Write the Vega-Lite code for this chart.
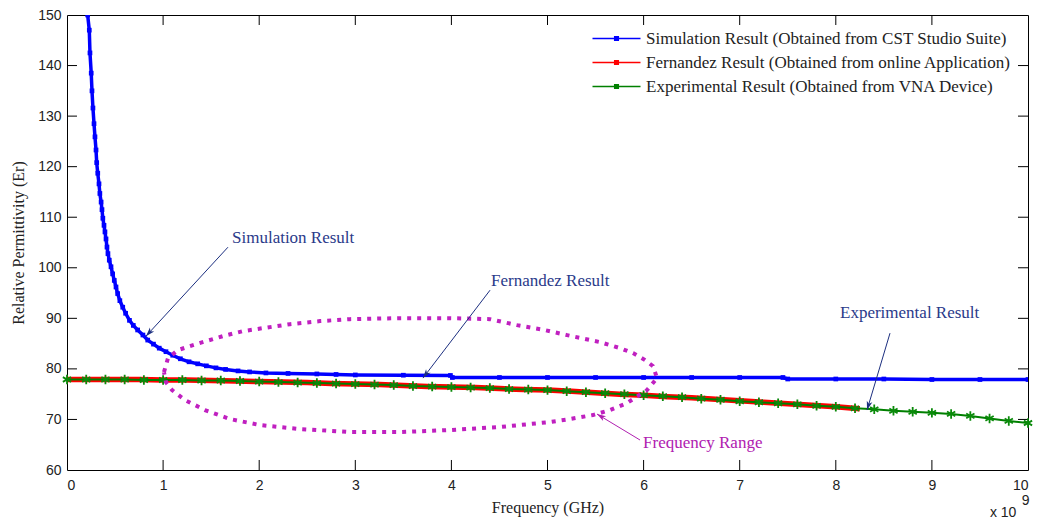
{
  "$schema": "https://vega.github.io/schema/vega-lite/v6.json",
  "width": 961,
  "height": 455,
  "autosize": "none",
  "padding": {"left": 67, "top": 15, "right": 10, "bottom": 53},
  "background": "white",
  "config": {
    "view": {"stroke": "black", "strokeWidth": 1},
    "axis": {"grid": false, "domain": false, "labelColor": "#222", "titleColor": "#222", "labelFont": "Liberation Sans", "labelFontSize": 14, "titleFont": "Liberation Serif", "titleFontSize": 16, "titleFontWeight": "normal"}
  },
  "datasets": {
    "lines": [
      {"series": "Simulation Result (Obtained from CST Studio Suite)", "f": 0.215, "er": 150},
      {"series": "Simulation Result (Obtained from CST Studio Suite)", "f": 0.232, "er": 147},
      {"series": "Simulation Result (Obtained from CST Studio Suite)", "f": 0.239, "er": 142.5},
      {"series": "Simulation Result (Obtained from CST Studio Suite)", "f": 0.252, "er": 138.5},
      {"series": "Simulation Result (Obtained from CST Studio Suite)", "f": 0.26, "er": 135},
      {"series": "Simulation Result (Obtained from CST Studio Suite)", "f": 0.27, "er": 131.6},
      {"series": "Simulation Result (Obtained from CST Studio Suite)", "f": 0.281, "er": 128.5},
      {"series": "Simulation Result (Obtained from CST Studio Suite)", "f": 0.291, "er": 125.9},
      {"series": "Simulation Result (Obtained from CST Studio Suite)", "f": 0.302, "er": 123.3},
      {"series": "Simulation Result (Obtained from CST Studio Suite)", "f": 0.309, "er": 120.8},
      {"series": "Simulation Result (Obtained from CST Studio Suite)", "f": 0.32, "er": 118.7},
      {"series": "Simulation Result (Obtained from CST Studio Suite)", "f": 0.333, "er": 116.6},
      {"series": "Simulation Result (Obtained from CST Studio Suite)", "f": 0.342, "er": 114.7},
      {"series": "Simulation Result (Obtained from CST Studio Suite)", "f": 0.355, "er": 113},
      {"series": "Simulation Result (Obtained from CST Studio Suite)", "f": 0.364, "er": 111.5},
      {"series": "Simulation Result (Obtained from CST Studio Suite)", "f": 0.373, "er": 109.8},
      {"series": "Simulation Result (Obtained from CST Studio Suite)", "f": 0.385, "er": 108.4},
      {"series": "Simulation Result (Obtained from CST Studio Suite)", "f": 0.395, "er": 107.1},
      {"series": "Simulation Result (Obtained from CST Studio Suite)", "f": 0.406, "er": 105.7},
      {"series": "Simulation Result (Obtained from CST Studio Suite)", "f": 0.416, "er": 104.1},
      {"series": "Simulation Result (Obtained from CST Studio Suite)", "f": 0.426, "er": 102.8},
      {"series": "Simulation Result (Obtained from CST Studio Suite)", "f": 0.44, "er": 101.5},
      {"series": "Simulation Result (Obtained from CST Studio Suite)", "f": 0.458, "er": 100.2},
      {"series": "Simulation Result (Obtained from CST Studio Suite)", "f": 0.475, "er": 98.8},
      {"series": "Simulation Result (Obtained from CST Studio Suite)", "f": 0.492, "er": 97.5},
      {"series": "Simulation Result (Obtained from CST Studio Suite)", "f": 0.51, "er": 96.2},
      {"series": "Simulation Result (Obtained from CST Studio Suite)", "f": 0.527, "er": 94.9},
      {"series": "Simulation Result (Obtained from CST Studio Suite)", "f": 0.55, "er": 93.5},
      {"series": "Simulation Result (Obtained from CST Studio Suite)", "f": 0.58, "er": 92.2},
      {"series": "Simulation Result (Obtained from CST Studio Suite)", "f": 0.61, "er": 91},
      {"series": "Simulation Result (Obtained from CST Studio Suite)", "f": 0.65, "er": 89.6},
      {"series": "Simulation Result (Obtained from CST Studio Suite)", "f": 0.69, "er": 88.6},
      {"series": "Simulation Result (Obtained from CST Studio Suite)", "f": 0.735, "er": 87.7},
      {"series": "Simulation Result (Obtained from CST Studio Suite)", "f": 0.79, "er": 86.7},
      {"series": "Simulation Result (Obtained from CST Studio Suite)", "f": 0.84, "er": 85.7},
      {"series": "Simulation Result (Obtained from CST Studio Suite)", "f": 0.9, "er": 84.9},
      {"series": "Simulation Result (Obtained from CST Studio Suite)", "f": 0.96, "er": 84.1},
      {"series": "Simulation Result (Obtained from CST Studio Suite)", "f": 1.03, "er": 83.4},
      {"series": "Simulation Result (Obtained from CST Studio Suite)", "f": 1.1, "er": 82.7},
      {"series": "Simulation Result (Obtained from CST Studio Suite)", "f": 1.18, "er": 82},
      {"series": "Simulation Result (Obtained from CST Studio Suite)", "f": 1.27, "er": 81.4},
      {"series": "Simulation Result (Obtained from CST Studio Suite)", "f": 1.36, "er": 81},
      {"series": "Simulation Result (Obtained from CST Studio Suite)", "f": 1.45, "er": 80.6},
      {"series": "Simulation Result (Obtained from CST Studio Suite)", "f": 1.55, "er": 80.2},
      {"series": "Simulation Result (Obtained from CST Studio Suite)", "f": 1.65, "er": 79.9},
      {"series": "Simulation Result (Obtained from CST Studio Suite)", "f": 1.78, "er": 79.6},
      {"series": "Simulation Result (Obtained from CST Studio Suite)", "f": 1.9, "er": 79.4},
      {"series": "Simulation Result (Obtained from CST Studio Suite)", "f": 2.07, "er": 79.2},
      {"series": "Simulation Result (Obtained from CST Studio Suite)", "f": 2.3, "er": 79.1},
      {"series": "Simulation Result (Obtained from CST Studio Suite)", "f": 2.6, "er": 79.0},
      {"series": "Simulation Result (Obtained from CST Studio Suite)", "f": 2.8, "er": 78.9},
      {"series": "Simulation Result (Obtained from CST Studio Suite)", "f": 3.0, "er": 78.8},
      {"series": "Simulation Result (Obtained from CST Studio Suite)", "f": 3.5, "er": 78.75},
      {"series": "Simulation Result (Obtained from CST Studio Suite)", "f": 3.99, "er": 78.7},
      {"series": "Simulation Result (Obtained from CST Studio Suite)", "f": 4.01, "er": 78.3},
      {"series": "Simulation Result (Obtained from CST Studio Suite)", "f": 4.5, "er": 78.3},
      {"series": "Simulation Result (Obtained from CST Studio Suite)", "f": 5.0, "er": 78.3},
      {"series": "Simulation Result (Obtained from CST Studio Suite)", "f": 5.5, "er": 78.3},
      {"series": "Simulation Result (Obtained from CST Studio Suite)", "f": 6.0, "er": 78.3},
      {"series": "Simulation Result (Obtained from CST Studio Suite)", "f": 6.5, "er": 78.3},
      {"series": "Simulation Result (Obtained from CST Studio Suite)", "f": 7.0, "er": 78.3},
      {"series": "Simulation Result (Obtained from CST Studio Suite)", "f": 7.45, "er": 78.3},
      {"series": "Simulation Result (Obtained from CST Studio Suite)", "f": 7.5, "er": 78.0},
      {"series": "Simulation Result (Obtained from CST Studio Suite)", "f": 8.0, "er": 78.0},
      {"series": "Simulation Result (Obtained from CST Studio Suite)", "f": 8.5, "er": 78.0},
      {"series": "Simulation Result (Obtained from CST Studio Suite)", "f": 9.0, "er": 77.9},
      {"series": "Simulation Result (Obtained from CST Studio Suite)", "f": 9.5, "er": 77.9},
      {"series": "Simulation Result (Obtained from CST Studio Suite)", "f": 10.0, "er": 77.9},
      {"series": "Fernandez Result (Obtained from online Application)", "f": 0, "er": 77.9},
      {"series": "Fernandez Result (Obtained from online Application)", "f": 0.25, "er": 77.9},
      {"series": "Fernandez Result (Obtained from online Application)", "f": 0.5, "er": 77.9},
      {"series": "Fernandez Result (Obtained from online Application)", "f": 0.75, "er": 77.9},
      {"series": "Fernandez Result (Obtained from online Application)", "f": 1.0, "er": 77.8},
      {"series": "Fernandez Result (Obtained from online Application)", "f": 1.25, "er": 77.8},
      {"series": "Fernandez Result (Obtained from online Application)", "f": 1.5, "er": 77.7},
      {"series": "Fernandez Result (Obtained from online Application)", "f": 1.75, "er": 77.6},
      {"series": "Fernandez Result (Obtained from online Application)", "f": 2.0, "er": 77.5},
      {"series": "Fernandez Result (Obtained from online Application)", "f": 2.25, "er": 77.4},
      {"series": "Fernandez Result (Obtained from online Application)", "f": 2.5, "er": 77.3},
      {"series": "Fernandez Result (Obtained from online Application)", "f": 2.75, "er": 77.1},
      {"series": "Fernandez Result (Obtained from online Application)", "f": 3.0, "er": 77.0},
      {"series": "Fernandez Result (Obtained from online Application)", "f": 3.25, "er": 76.9},
      {"series": "Fernandez Result (Obtained from online Application)", "f": 3.5, "er": 76.7},
      {"series": "Fernandez Result (Obtained from online Application)", "f": 3.75, "er": 76.5},
      {"series": "Fernandez Result (Obtained from online Application)", "f": 4.0, "er": 76.4},
      {"series": "Fernandez Result (Obtained from online Application)", "f": 4.25, "er": 76.3},
      {"series": "Fernandez Result (Obtained from online Application)", "f": 4.5, "er": 76.1},
      {"series": "Fernandez Result (Obtained from online Application)", "f": 4.75, "er": 75.9},
      {"series": "Fernandez Result (Obtained from online Application)", "f": 5.0, "er": 75.8},
      {"series": "Fernandez Result (Obtained from online Application)", "f": 5.25, "er": 75.6},
      {"series": "Fernandez Result (Obtained from online Application)", "f": 5.5, "er": 75.3},
      {"series": "Fernandez Result (Obtained from online Application)", "f": 5.75, "er": 75.0},
      {"series": "Fernandez Result (Obtained from online Application)", "f": 6.0, "er": 74.8},
      {"series": "Fernandez Result (Obtained from online Application)", "f": 6.25, "er": 74.5},
      {"series": "Fernandez Result (Obtained from online Application)", "f": 6.5, "er": 74.3},
      {"series": "Fernandez Result (Obtained from online Application)", "f": 6.75, "er": 74.0},
      {"series": "Fernandez Result (Obtained from online Application)", "f": 7.0, "er": 73.7},
      {"series": "Fernandez Result (Obtained from online Application)", "f": 7.25, "er": 73.4},
      {"series": "Fernandez Result (Obtained from online Application)", "f": 7.5, "er": 73.1},
      {"series": "Fernandez Result (Obtained from online Application)", "f": 7.75, "er": 72.8},
      {"series": "Fernandez Result (Obtained from online Application)", "f": 8.0, "er": 72.5},
      {"series": "Fernandez Result (Obtained from online Application)", "f": 8.25, "er": 72.1},
      {"series": "Experimental Result (Obtained from VNA Device)", "f": 0, "er": 77.9},
      {"series": "Experimental Result (Obtained from VNA Device)", "f": 0.2, "er": 77.9},
      {"series": "Experimental Result (Obtained from VNA Device)", "f": 0.4, "er": 77.9},
      {"series": "Experimental Result (Obtained from VNA Device)", "f": 0.6, "er": 77.9},
      {"series": "Experimental Result (Obtained from VNA Device)", "f": 0.8, "er": 77.8},
      {"series": "Experimental Result (Obtained from VNA Device)", "f": 1.0, "er": 77.8},
      {"series": "Experimental Result (Obtained from VNA Device)", "f": 1.2, "er": 77.8},
      {"series": "Experimental Result (Obtained from VNA Device)", "f": 1.4, "er": 77.7},
      {"series": "Experimental Result (Obtained from VNA Device)", "f": 1.6, "er": 77.7},
      {"series": "Experimental Result (Obtained from VNA Device)", "f": 1.8, "er": 77.6},
      {"series": "Experimental Result (Obtained from VNA Device)", "f": 2.0, "er": 77.5},
      {"series": "Experimental Result (Obtained from VNA Device)", "f": 2.2, "er": 77.4},
      {"series": "Experimental Result (Obtained from VNA Device)", "f": 2.4, "er": 77.3},
      {"series": "Experimental Result (Obtained from VNA Device)", "f": 2.6, "er": 77.2},
      {"series": "Experimental Result (Obtained from VNA Device)", "f": 2.8, "er": 77.1},
      {"series": "Experimental Result (Obtained from VNA Device)", "f": 3.0, "er": 77.0},
      {"series": "Experimental Result (Obtained from VNA Device)", "f": 3.2, "er": 76.9},
      {"series": "Experimental Result (Obtained from VNA Device)", "f": 3.4, "er": 76.8},
      {"series": "Experimental Result (Obtained from VNA Device)", "f": 3.6, "er": 76.6},
      {"series": "Experimental Result (Obtained from VNA Device)", "f": 3.8, "er": 76.5},
      {"series": "Experimental Result (Obtained from VNA Device)", "f": 4.0, "er": 76.4},
      {"series": "Experimental Result (Obtained from VNA Device)", "f": 4.2, "er": 76.3},
      {"series": "Experimental Result (Obtained from VNA Device)", "f": 4.4, "er": 76.2},
      {"series": "Experimental Result (Obtained from VNA Device)", "f": 4.6, "er": 76.0},
      {"series": "Experimental Result (Obtained from VNA Device)", "f": 4.8, "er": 75.9},
      {"series": "Experimental Result (Obtained from VNA Device)", "f": 5.0, "er": 75.8},
      {"series": "Experimental Result (Obtained from VNA Device)", "f": 5.2, "er": 75.6},
      {"series": "Experimental Result (Obtained from VNA Device)", "f": 5.4, "er": 75.4},
      {"series": "Experimental Result (Obtained from VNA Device)", "f": 5.6, "er": 75.2},
      {"series": "Experimental Result (Obtained from VNA Device)", "f": 5.8, "er": 75.0},
      {"series": "Experimental Result (Obtained from VNA Device)", "f": 6.0, "er": 74.8},
      {"series": "Experimental Result (Obtained from VNA Device)", "f": 6.2, "er": 74.6},
      {"series": "Experimental Result (Obtained from VNA Device)", "f": 6.4, "er": 74.4},
      {"series": "Experimental Result (Obtained from VNA Device)", "f": 6.6, "er": 74.1},
      {"series": "Experimental Result (Obtained from VNA Device)", "f": 6.8, "er": 73.9},
      {"series": "Experimental Result (Obtained from VNA Device)", "f": 7.0, "er": 73.6},
      {"series": "Experimental Result (Obtained from VNA Device)", "f": 7.2, "er": 73.4},
      {"series": "Experimental Result (Obtained from VNA Device)", "f": 7.4, "er": 73.2},
      {"series": "Experimental Result (Obtained from VNA Device)", "f": 7.6, "er": 73.0},
      {"series": "Experimental Result (Obtained from VNA Device)", "f": 7.8, "er": 72.7},
      {"series": "Experimental Result (Obtained from VNA Device)", "f": 8.0, "er": 72.5},
      {"series": "Experimental Result (Obtained from VNA Device)", "f": 8.2, "er": 72.2},
      {"series": "Experimental Result (Obtained from VNA Device)", "f": 8.4, "er": 72.0},
      {"series": "Experimental Result (Obtained from VNA Device)", "f": 8.6, "er": 71.7},
      {"series": "Experimental Result (Obtained from VNA Device)", "f": 8.8, "er": 71.5},
      {"series": "Experimental Result (Obtained from VNA Device)", "f": 9.0, "er": 71.3},
      {"series": "Experimental Result (Obtained from VNA Device)", "f": 9.2, "er": 71.1},
      {"series": "Experimental Result (Obtained from VNA Device)", "f": 9.4, "er": 70.7},
      {"series": "Experimental Result (Obtained from VNA Device)", "f": 9.6, "er": 70.2},
      {"series": "Experimental Result (Obtained from VNA Device)", "f": 9.8, "er": 69.7},
      {"series": "Experimental Result (Obtained from VNA Device)", "f": 10.0, "er": 69.3}
    ],
    "ellipse": [
      {"i": 1, "f": 1.009, "er": 79.37},
      {"i": 2, "f": 1.051, "er": 82.13},
      {"i": 3, "f": 1.155, "er": 83.72},
      {"i": 4, "f": 1.311, "er": 84.70},
      {"i": 5, "f": 1.446, "er": 85.49},
      {"i": 6, "f": 1.623, "er": 86.48},
      {"i": 7, "f": 1.831, "er": 87.47},
      {"i": 8, "f": 2.040, "er": 88.06},
      {"i": 9, "f": 2.320, "er": 88.85},
      {"i": 10, "f": 2.633, "er": 89.45},
      {"i": 11, "f": 2.945, "er": 89.84},
      {"i": 12, "f": 3.465, "er": 90.04},
      {"i": 13, "f": 3.985, "er": 90.04},
      {"i": 14, "f": 4.402, "er": 89.84},
      {"i": 15, "f": 4.683, "er": 88.66},
      {"i": 16, "f": 4.974, "er": 87.67},
      {"i": 17, "f": 5.203, "er": 86.68},
      {"i": 18, "f": 5.546, "er": 85.30},
      {"i": 19, "f": 5.754, "er": 84.11},
      {"i": 20, "f": 5.890, "er": 83.12},
      {"i": 21, "f": 6.015, "er": 81.74},
      {"i": 22, "f": 6.098, "er": 80.55},
      {"i": 23, "f": 6.140, "er": 78.18},
      {"i": 24, "f": 6.036, "er": 75.81},
      {"i": 25, "f": 5.827, "er": 73.24},
      {"i": 26, "f": 5.650, "er": 71.86},
      {"i": 27, "f": 5.473, "er": 70.87},
      {"i": 28, "f": 5.234, "er": 70.08},
      {"i": 29, "f": 5.026, "er": 69.49},
      {"i": 30, "f": 4.506, "er": 68.50},
      {"i": 31, "f": 3.985, "er": 67.91},
      {"i": 32, "f": 3.465, "er": 67.51},
      {"i": 33, "f": 2.945, "er": 67.51},
      {"i": 34, "f": 2.425, "er": 68.10},
      {"i": 35, "f": 2.008, "er": 68.89},
      {"i": 36, "f": 1.696, "er": 70.08},
      {"i": 37, "f": 1.436, "er": 71.86},
      {"i": 38, "f": 1.228, "er": 73.83},
      {"i": 39, "f": 1.093, "er": 75.81},
      {"i": 40, "f": 1.030, "er": 77.39},
      {"i": 41, "f": 1.009, "er": 79.37}
    ],
    "notes": [
      {"name": "sim", "label": "Simulation Result", "f": 1.717, "er": 105.85, "tf": 1.675, "ter": 104.07, "hf": 0.822, "her": 86.48},
      {"name": "fer", "label": "Fernandez Result", "f": 4.412, "er": 97.41, "tf": 4.402, "ter": 95.57, "hf": 3.704, "her": 78.18},
      {"name": "exp", "label": "Experimental Result", "f": 8.044, "er": 91.03, "tf": 8.564, "ter": 87.07, "hf": 8.325, "her": 71.86},
      {"name": "rng", "label": "Frequency Range", "f": 5.994, "er": 65.34, "tf": 5.963, "ter": 65.93, "hf": 5.515, "her": 71.07}
    ],
    "exponent": [
      {"label": "x 10", "f": 9.604, "er": 51.5},
      {"label": "9", "f": 9.935, "er": 53.9}
    ],
    "xticks": [{"v": 1}, {"v": 2}, {"v": 3}, {"v": 4}, {"v": 5}, {"v": 6}, {"v": 7}, {"v": 8}, {"v": 9}],
    "yticks": [{"v": 70}, {"v": 80}, {"v": 90}, {"v": 100}, {"v": 110}, {"v": 120}, {"v": 130}, {"v": 140}]
  },
  "layer": [
    {
      "data": {"name": "lines"},
      "transform": [{"filter": "datum.series === 'Fernandez Result (Obtained from online Application)'"}],
      "mark": {"type": "line", "strokeWidth": 5.5, "clip": true},
      "encoding": {
        "x": {"field": "f", "type": "quantitative", "scale": {"domain": [0, 10], "nice": false, "zero": false},
          "axis": {"orient": "bottom", "values": [0,1,2,3,4,5,6,7,8,9,10], "ticks": false, "labelPadding": 8, "title": "Frequency (GHz)", "titlePadding": 7}},
        "y": {"field": "er", "type": "quantitative", "scale": {"domain": [60, 150], "nice": false, "zero": false},
          "axis": {"orient": "left", "values": [60,70,80,90,100,110,120,130,140,150], "ticks": false, "labelPadding": 6, "title": "Relative Permittivity (Er)", "titlePadding": 11}},
        "color": {"field": "series", "type": "nominal",
          "scale": {"domain": ["Simulation Result (Obtained from CST Studio Suite)", "Fernandez Result (Obtained from online Application)", "Experimental Result (Obtained from VNA Device)"], "range": ["#0000ff", "#ff0000", "#008000"]},
          "legend": {"orient": "none", "legendX": 541, "legendY": 15, "title": null, "padding": 0,
            "symbolType": "M-8,0L8,0M-0.6,-0.6L0.6,-0.6L0.6,0.6L-0.6,0.6Z", "symbolSize": 36, "symbolStrokeWidth": 1.5,
            "labelOffset": 21, "labelFont": "Liberation Serif", "labelFontSize": 17, "labelColor": "#222", "rowPadding": 6, "labelLimit": 600,
            "encode": {"symbols": {"update": {"fill": {"scale": "color", "field": "value"}}}}}}
      }
    },
    {
      "data": {"name": "xticks"},
      "mark": {"type": "rule", "color": "#000000", "strokeWidth": 1},
      "encoding": {
        "x": {"field": "v", "type": "quantitative", "axis": null},
        "y": {"datum": 60, "type": "quantitative", "axis": null},
        "y2": {"datum": 61.98}
      }
    },
    {
      "data": {"name": "xticks"},
      "mark": {"type": "rule", "color": "#000000", "strokeWidth": 1},
      "encoding": {
        "x": {"field": "v", "type": "quantitative", "axis": null},
        "y": {"datum": 150, "type": "quantitative", "axis": null},
        "y2": {"datum": 148.02}
      }
    },
    {
      "data": {"name": "yticks"},
      "mark": {"type": "rule", "color": "#000000", "strokeWidth": 1},
      "encoding": {
        "y": {"field": "v", "type": "quantitative", "axis": null},
        "x": {"datum": 0, "type": "quantitative", "axis": null},
        "x2": {"datum": 0.104}
      }
    },
    {
      "data": {"name": "yticks"},
      "mark": {"type": "rule", "color": "#000000", "strokeWidth": 1},
      "encoding": {
        "y": {"field": "v", "type": "quantitative", "axis": null},
        "x": {"datum": 10, "type": "quantitative", "axis": null},
        "x2": {"datum": 9.896}
      }
    },
    {
      "data": {"name": "lines"},
      "transform": [{"filter": "datum.series === 'Simulation Result (Obtained from CST Studio Suite)'"}],
      "mark": {"type": "line", "strokeWidth": 3.5, "clip": true},
      "encoding": {
        "x": {"field": "f", "type": "quantitative", "axis": null},
        "y": {"field": "er", "type": "quantitative", "axis": null},
        "color": {"field": "series", "type": "nominal"}
      }
    },
    {
      "data": {"name": "lines"},
      "transform": [{"filter": "datum.series === 'Simulation Result (Obtained from CST Studio Suite)'"}],
      "mark": {"type": "point", "filled": true, "shape": "square", "size": 22, "color": "#0000ff", "opacity": 1, "clip": true},
      "encoding": {
        "x": {"field": "f", "type": "quantitative", "axis": null},
        "y": {"field": "er", "type": "quantitative", "axis": null}
      }
    },
    {
      "data": {"name": "lines"},
      "transform": [{"filter": "datum.series === 'Experimental Result (Obtained from VNA Device)'"}],
      "mark": {"type": "line", "strokeWidth": 2, "clip": true},
      "encoding": {
        "x": {"field": "f", "type": "quantitative", "axis": null},
        "y": {"field": "er", "type": "quantitative", "axis": null},
        "color": {"field": "series", "type": "nominal"}
      }
    },
    {
      "data": {"name": "lines"},
      "transform": [{"filter": "datum.series === 'Experimental Result (Obtained from VNA Device)'"}],
      "mark": {"type": "point", "filled": false, "shape": "M0,-1L0,1M-0.87,-0.5L0.87,0.5M-0.87,0.5L0.87,-0.5", "size": 90, "stroke": "#0a8a0a", "strokeWidth": 1.8, "opacity": 1, "clip": false},
      "encoding": {
        "x": {"field": "f", "type": "quantitative", "axis": null},
        "y": {"field": "er", "type": "quantitative", "axis": null}
      }
    },
    {
      "data": {"name": "ellipse"},
      "mark": {"type": "line", "strokeWidth": 4, "strokeDash": [4, 6], "strokeCap": "butt", "color": "#c020c0"},
      "encoding": {
        "x": {"field": "f", "type": "quantitative", "axis": null},
        "y": {"field": "er", "type": "quantitative", "axis": null},
        "order": {"field": "i", "type": "quantitative"}
      }
    },
    {
      "data": {"name": "notes"},
      "transform": [{"filter": "datum.name !== 'rng'"}],
      "mark": {"type": "rule", "color": "#1c2f80", "strokeWidth": 1},
      "encoding": {
        "x": {"field": "tf", "type": "quantitative", "axis": null},
        "y": {"field": "ter", "type": "quantitative", "axis": null},
        "x2": {"field": "hf"},
        "y2": {"field": "her"}
      }
    },
    {
      "data": {"name": "notes"},
      "transform": [{"filter": "datum.name === 'rng'"}],
      "mark": {"type": "rule", "color": "#b020b0", "strokeWidth": 1},
      "encoding": {
        "x": {"field": "tf", "type": "quantitative", "axis": null},
        "y": {"field": "ter", "type": "quantitative", "axis": null},
        "x2": {"field": "hf"},
        "y2": {"field": "her"}
      }
    },
    {
      "data": {"name": "notes"},
      "transform": [{"filter": "datum.name === 'sim'"}],
      "mark": {"type": "point", "shape": "M0,0L0.55,1.7L0,1.25L-0.55,1.7Z", "size": 110, "filled": true, "color": "#1c2f80", "opacity": 1, "angle": 222.6},
      "encoding": {"x": {"field": "hf", "type": "quantitative", "axis": null}, "y": {"field": "her", "type": "quantitative", "axis": null}}
    },
    {
      "data": {"name": "notes"},
      "transform": [{"filter": "datum.name === 'fer'"}],
      "mark": {"type": "point", "shape": "M0,0L0.55,1.7L0,1.25L-0.55,1.7Z", "size": 110, "filled": true, "color": "#1c2f80", "opacity": 1, "angle": 217.3},
      "encoding": {"x": {"field": "hf", "type": "quantitative", "axis": null}, "y": {"field": "her", "type": "quantitative", "axis": null}}
    },
    {
      "data": {"name": "notes"},
      "transform": [{"filter": "datum.name === 'exp'"}],
      "mark": {"type": "point", "shape": "M0,0L0.55,1.7L0,1.25L-0.55,1.7Z", "size": 110, "filled": true, "color": "#1c2f80", "opacity": 1, "angle": 196.6},
      "encoding": {"x": {"field": "hf", "type": "quantitative", "axis": null}, "y": {"field": "her", "type": "quantitative", "axis": null}}
    },
    {
      "data": {"name": "notes"},
      "transform": [{"filter": "datum.name === 'rng'"}],
      "mark": {"type": "point", "shape": "M0,0L0.55,1.7L0,1.25L-0.55,1.7Z", "size": 110, "filled": true, "color": "#b020b0", "opacity": 1, "angle": 301.2},
      "encoding": {"x": {"field": "hf", "type": "quantitative", "axis": null}, "y": {"field": "her", "type": "quantitative", "axis": null}}
    },
    {
      "data": {"name": "notes"},
      "transform": [{"filter": "datum.name !== 'rng'"}],
      "mark": {"type": "text", "align": "left", "baseline": "middle", "font": "Liberation Serif", "fontSize": 17, "color": "#2a3a8a"},
      "encoding": {
        "x": {"field": "f", "type": "quantitative", "axis": null},
        "y": {"field": "er", "type": "quantitative", "axis": null},
        "text": {"field": "label"}
      }
    },
    {
      "data": {"name": "notes"},
      "transform": [{"filter": "datum.name === 'rng'"}],
      "mark": {"type": "text", "align": "left", "baseline": "middle", "font": "Liberation Serif", "fontSize": 17, "color": "#b020b0"},
      "encoding": {
        "x": {"field": "f", "type": "quantitative", "axis": null},
        "y": {"field": "er", "type": "quantitative", "axis": null},
        "text": {"field": "label"}
      }
    },
    {
      "data": {"name": "exponent"},
      "mark": {"type": "text", "align": "left", "baseline": "middle", "font": "Liberation Sans", "fontSize": 14, "color": "#222"},
      "encoding": {
        "x": {"field": "f", "type": "quantitative", "axis": null},
        "y": {"field": "er", "type": "quantitative", "axis": null},
        "text": {"field": "label"}
      }
    }
  ],
  "resolve": {"axis": {"x": "independent", "y": "independent"}}
}
